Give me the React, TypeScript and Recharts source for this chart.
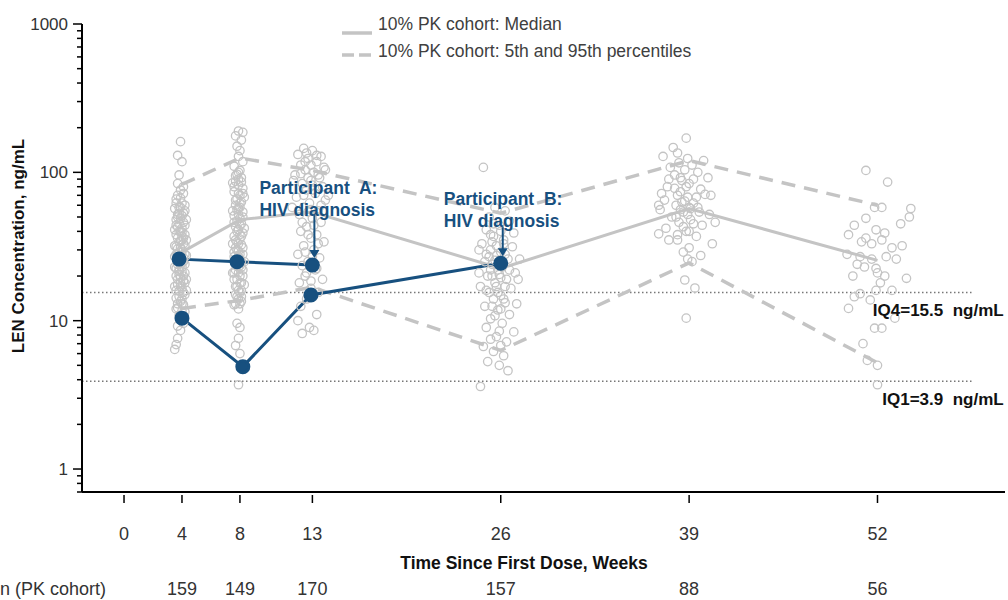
import React from "react"
import { ComposedChart, Line, Scatter, XAxis, YAxis, ReferenceLine, ReferenceDot } from "recharts"

const weekTicks = [0, 4, 8, 13, 26, 39, 52]
const nCounts = ["", "159", "149", "170", "157", "88", "56"]
const yTicks = [0.7, 0.8, 0.9, 1, 2, 3, 4, 5, 6, 7, 8, 9, 10, 20, 30, 40, 50, 60, 70, 80, 90, 100, 200, 300, 400, 500, 600, 700, 800, 900, 1000]
const majorY = [1, 10, 100, 1000]

const visits = [4, 8, 13, 26, 39, 52]
const medianConc = [29, 48, 54, 22.5, 57, 25.5]
const p95Conc = [83, 125, 103, 53, 120, 60]
const p5Conc = [12.1, 13.7, 16.8, 6.3, 24.5, 5.2]

const partAWeeks = [3.8, 7.8, 13]
const partAConc = [26, 25, 23.7]
const partBWeeks = [4.0, 8.2, 12.9, 26]
const partBConc = [10.4, 4.9, 14.9, 24.4]

const iq4 = 15.5
const iq1 = 3.9

// individual PK samples [week, ng/mL]
const wk4Samples = [
  [3.9, 161], [3.7, 130], [4.0, 118], [3.8, 96], [3.7, 84], [3.9, 76], [4.1, 72], [3.6, 66], [4.0, 62], [3.8, 58],
  [4.2, 55], [3.7, 52], [3.9, 49], [4.1, 46], [3.6, 44], [4.0, 42], [3.8, 40], [4.2, 38], [3.7, 36], [3.9, 34.5],
  [4.1, 33], [3.6, 31.5], [4.0, 30], [3.8, 29], [4.2, 28], [3.5, 27], [3.9, 26], [4.1, 25], [3.7, 24], [4.0, 23],
  [3.8, 22], [4.2, 21], [3.6, 20], [3.9, 19.5], [4.1, 18.5], [3.7, 17.5], [4.0, 16.5], [3.8, 15.8], [4.2, 15], [3.6, 14.2],
  [3.9, 13.5], [4.1, 12.8], [3.7, 12.2], [4.0, 11.6], [3.8, 10.8], [4.1, 9.6], [3.9, 8.6], [3.7, 7.6], [3.6, 6.9], [3.5, 6.4],
  [3.5, 57], [4.3, 48], [3.5, 41], [4.3, 35], [3.5, 32], [4.3, 27.5], [3.5, 23], [4.3, 19], [3.5, 17], [4.3, 16],
  [3.8, 45], [4.0, 37], [3.9, 31], [3.7, 28], [4.0, 24.5], [3.8, 21.5], [3.9, 18], [4.0, 14], [3.7, 13], [3.9, 67],
  [3.6, 62], [4.2, 60], [3.8, 53], [4.0, 51], [3.6, 48], [4.2, 44], [3.7, 43], [4.0, 39.5], [3.6, 38], [4.1, 36],
  [3.8, 34], [4.2, 32], [3.7, 30.5], [4.0, 29], [3.6, 28], [4.1, 26.5], [3.8, 25.5], [4.2, 24], [3.6, 22.5], [4.0, 21.5],
  [3.8, 20.5], [4.1, 20], [3.7, 19], [4.2, 18], [3.9, 17], [3.6, 16], [4.1, 15.5], [3.8, 14.6], [4.0, 13], [3.6, 12],
  [4.2, 11.5], [3.9, 10.2], [3.7, 9.2], [4.0, 35], [3.9, 40], [3.7, 50], [4.1, 53], [3.9, 58], [3.7, 70], [4.1, 80],
]
const wk8Samples = [
  [7.9, 190], [8.2, 186], [7.7, 176], [8.1, 165], [7.8, 150], [8.0, 140], [7.9, 128], [8.2, 118], [7.6, 110], [8.0, 103],
  [7.8, 97], [8.1, 92], [7.7, 87], [7.9, 82], [8.2, 78], [7.6, 74], [8.0, 70], [7.8, 66], [8.1, 63], [7.7, 60],
  [7.9, 57], [8.2, 54], [7.6, 51], [8.0, 49], [7.8, 47], [8.1, 45], [7.7, 43], [7.9, 41], [8.2, 39], [7.6, 37],
  [8.0, 35.5], [7.8, 34], [8.1, 32.5], [7.7, 31], [7.9, 29.5], [8.2, 28], [7.6, 27], [8.0, 26], [7.8, 24.5], [8.1, 23],
  [7.7, 22], [7.9, 21], [8.2, 20], [7.6, 19], [8.0, 18], [7.8, 17], [8.1, 16], [7.7, 15], [7.9, 14], [8.0, 13],
  [7.6, 12.8], [8.1, 14.5], [7.8, 9.6], [8.0, 9.0], [7.9, 7.6], [7.7, 6.8], [8.0, 6.0], [7.9, 3.7],
  [7.5, 85], [8.3, 68], [7.5, 55], [8.3, 42], [7.5, 33], [8.3, 25], [7.5, 21], [8.3, 17.5], [7.9, 100], [8.0, 58],
  [7.7, 95], [8.1, 86], [7.9, 90], [7.6, 80], [8.2, 72], [7.9, 72], [7.7, 65], [8.0, 62], [7.8, 56], [8.2, 50],
  [7.6, 46], [8.0, 44], [7.8, 40], [8.1, 37], [7.7, 35], [7.9, 33], [8.2, 31], [7.6, 29], [8.0, 28], [7.8, 26],
  [8.1, 25], [7.7, 24], [7.9, 23], [8.2, 22], [7.6, 21], [8.0, 20], [7.8, 19], [8.1, 18], [7.7, 17], [7.9, 16],
  [8.0, 15.5], [7.8, 14.5], [8.1, 13.5], [7.7, 13], [7.9, 12], [8.0, 38], [7.9, 52], [7.8, 30], [8.0, 23.5], [7.9, 27],
]
const wk13Samples = [
  [12.4, 145], [13.0, 140], [12.0, 132], [13.6, 128], [12.7, 124], [13.3, 118], [12.2, 112], [13.8, 108], [12.5, 104], [13.1, 100],
  [11.8, 96], [13.5, 92], [12.9, 88], [12.3, 84], [13.7, 80], [12.6, 76], [13.2, 72], [11.9, 68], [13.9, 65], [12.8, 62],
  [12.4, 58], [13.4, 55], [12.1, 52], [13.0, 49], [13.6, 46], [12.6, 43], [12.2, 40], [13.3, 38], [12.9, 36], [13.8, 34],
  [12.4, 32], [13.1, 30], [12.0, 28], [13.5, 26.5], [12.7, 25], [12.3, 23.5], [13.2, 22], [12.5, 20], [13.7, 19], [12.1, 18],
  [12.9, 16.5], [13.4, 15.5], [12.6, 14], [12.2, 12.5], [13.3, 11], [12.0, 10], [12.8, 9], [12.3, 8.2], [13.1, 8.6],
  [13.9, 104], [11.7, 88], [14.1, 70], [11.6, 58], [12.5, 118], [13.0, 82], [12.7, 54],
  [12.6, 135], [13.3, 130], [12.9, 112], [12.2, 98], [13.4, 96], [12.7, 92], [13.0, 76], [12.4, 70], [13.6, 60], [12.9, 56],
  [12.3, 46], [13.1, 44], [12.7, 38], [13.4, 33], [12.5, 29], [13.0, 27], [12.8, 24], [13.3, 22.5], [12.6, 21], [12.9, 18.5],
]
const wk26Samples = [
  [24.8, 108], [25.6, 58], [26.3, 55], [25.2, 50], [26.6, 47], [25.9, 44], [25.0, 41], [26.9, 39], [25.5, 37], [26.2, 35],
  [24.7, 33], [26.8, 31.5], [25.3, 30], [26.0, 29], [25.7, 27.5], [26.5, 26], [24.9, 25], [25.4, 24], [26.1, 23], [25.8, 22],
  [27.0, 21], [25.1, 20], [26.4, 19], [25.6, 18], [24.6, 17], [26.7, 16.5], [25.2, 15.5], [26.0, 14.8], [25.5, 14], [26.3, 13.2],
  [24.9, 12.5], [25.8, 11.8], [26.6, 11], [25.3, 10.3], [26.1, 9.6], [25.0, 9], [26.9, 8.4], [25.7, 7.8], [26.4, 7.2], [24.8, 6.7],
  [25.5, 6.2], [26.2, 5.8], [25.1, 5.3], [25.9, 5.0], [26.5, 4.6], [24.6, 3.6], [27.3, 26], [24.5, 30], [27.2, 19], [24.5, 21],
  [27.1, 13], [25.4, 34], [25.9, 20.5], [25.2, 27],
  [25.5, 45], [26.0, 40], [25.3, 38], [26.2, 33], [25.7, 32], [25.0, 28], [26.3, 28], [25.6, 25.5], [26.1, 25], [25.3, 22],
  [25.9, 23.5], [26.6, 22], [25.4, 20], [26.0, 19.5], [25.7, 17], [26.3, 17], [25.0, 16], [25.8, 15.5], [26.2, 14], [25.4, 12.5],
  [26.0, 12], [25.6, 10.8], [25.9, 8.5], [25.3, 7.5], [26.0, 6.8],
]
const wk39Samples = [
  [38.8, 170], [37.9, 147], [38.2, 135], [37.2, 128], [38.9, 124], [40.0, 120], [38.3, 116], [39.2, 112], [37.7, 108], [38.7, 104],
  [39.6, 100], [38.0, 96], [40.3, 92], [38.5, 88], [39.0, 84], [37.5, 80], [39.8, 77], [38.4, 74], [40.1, 71], [38.9, 68],
  [37.3, 65], [39.3, 62], [38.1, 60], [39.6, 58], [37.0, 56], [38.6, 54], [40.4, 52], [37.8, 50], [39.1, 48], [38.3, 46],
  [39.9, 44], [37.4, 42], [38.8, 40], [36.9, 38.5], [39.5, 37], [38.2, 35], [40.6, 33], [39.0, 31], [38.6, 29], [39.8, 27.5],
  [38.9, 26], [39.2, 25], [38.7, 18.8], [39.4, 16.6], [38.8, 10.4], [37.6, 90], [40.5, 70], [37.1, 72], [36.9, 60], [40.8, 46],
  [37.6, 35], [38.5, 63], [39.1, 57], [38.0, 78],
  [38.4, 92], [39.3, 90], [38.8, 80], [38.2, 70], [39.5, 68], [38.7, 64], [39.0, 58], [38.4, 56], [39.7, 54], [38.9, 52],
  [38.1, 50], [39.3, 45], [38.6, 43], [39.0, 40], [38.2, 38],
]
const wk52Samples = [
  [51.2, 103], [52.7, 86], [51.8, 58], [52.3, 58], [54.3, 57], [54.2, 50], [51.2, 49], [50.4, 44], [50.0, 38], [51.9, 41],
  [52.5, 39], [51.2, 36], [50.9, 34], [51.6, 33], [52.3, 35], [53.0, 31], [53.7, 32], [50.8, 27], [51.6, 26], [52.6, 27],
  [53.3, 26], [50.6, 24], [51.1, 23], [51.9, 22.5], [52.0, 21], [52.5, 20], [54.0, 19.3], [52.2, 18], [51.9, 16], [53.0, 16],
  [50.8, 15.2], [50.4, 14.5], [51.5, 13.8], [50.0, 12.1], [53.2, 10.4], [51.8, 8.9], [52.3, 8.9], [51.0, 7.0], [51.3, 5.4], [52.0, 5.0],
  [52.0, 3.7], [49.9, 28], [53.6, 45], [50.3, 20],
]

const toPts = (xs: number[], ys: number[]) => xs.map((x, i) => ({ x, y: ys[i] }))
const samplePts = [...wk4Samples, ...wk8Samples, ...wk13Samples, ...wk26Samples, ...wk39Samples, ...wk52Samples].map(([x, y]) => ({ x, y }))

const BLUE = "#17507f"
const GREY = "#c4c4c4"
const FONT = "'Liberation Sans', Arial, sans-serif"

const renderYTick = (props: any) => {
  const { y, payload } = props
  const major = majorY.includes(payload.value)
  return (
    <g>
      <line x1={major ? 73 : 77} x2={82} y1={y} y2={y} stroke="#000" strokeWidth={1.5} />
      {major && (
        <text x={68} y={y} dy={6} textAnchor="end" fontSize={17} fill="#333" fontFamily={FONT}>
          {payload.value}
        </text>
      )}
    </g>
  )
}

const renderXTick = (props: any) => {
  const { x, payload, index } = props
  return (
    <g>
      <line x1={x} x2={x} y1={495} y2={503} stroke="#000" strokeWidth={1.5} />
      <text x={x} y={540} textAnchor="middle" fontSize={18} fill="#333" fontFamily={FONT}>{payload.value}</text>
      <text x={x} y={595} textAnchor="middle" fontSize={18} fill="#333" fontFamily={FONT}>{nCounts[index]}</text>
    </g>
  )
}

const openCircle = (p: any) => <circle cx={p.cx} cy={p.cy} r={4.2} fill="none" stroke={GREY} strokeWidth={1.3} />

const annotate = (lines: string[], dx: number, top: number, arrowTop: number) => (p: any) => (
  <g fontFamily={FONT} fontWeight="bold" fontSize={17.5} fill={BLUE}>
    <text x={p.cx + dx} y={p.cy - top} style={{ whiteSpace: "pre" }}>{lines[0]}</text>
    <text x={p.cx + dx} y={p.cy - top + 22}>{lines[1]}</text>
    <line x1={p.cx + 2} x2={p.cx + 2} y1={p.cy - arrowTop} y2={p.cy - 14} stroke={BLUE} strokeWidth={2} />
    <path d={`M${p.cx - 3} ${p.cy - 15} L${p.cx + 7} ${p.cy - 15} L${p.cx + 2} ${p.cy - 7} Z`} fill={BLUE} />
  </g>
)

const iqLabel = (text: string) => (p: any) => (
  <text x={p.cx + 32} y={p.cy + 24} textAnchor="end" fontFamily={FONT} fontWeight="bold" fontSize={17} fill="#111"
    style={{ whiteSpace: "pre" }}>
    {text}
  </text>
)

export default function App() {
  return (
    <div style={{ position: "absolute", left: 0, top: 0, width: 1008, height: 600, background: "#fff" }}>
      <ComposedChart width={1008} height={600} margin={{ top: 24, right: 3, bottom: 48, left: 12 }}>
        <XAxis type="number" dataKey="x" domain={[-2.9, 60.8]} allowDataOverflow ticks={weekTicks} interval={0}
          tick={renderXTick} tickLine={false} axisLine={{ stroke: "#000", strokeWidth: 2 }} height={60} />
        <YAxis type="number" dataKey="y" scale="log" domain={[0.7, 1000]} allowDataOverflow ticks={yTicks} interval={0}
          tick={renderYTick} tickLine={false} axisLine={{ stroke: "#000", strokeWidth: 2 }} width={70} />
        <ReferenceLine segment={[{ x: -2.9, y: iq4 }, { x: 58.5, y: iq4 }]} stroke="#777" strokeDasharray="1.5 2.5" strokeWidth={1.5} />
        <ReferenceLine segment={[{ x: -2.9, y: iq1 }, { x: 58.5, y: iq1 }]} stroke="#777" strokeDasharray="1.5 2.5" strokeWidth={1.5} />
        <Scatter data={samplePts} dataKey="y" shape={openCircle} isAnimationActive={false} />
        <Line data={toPts(visits, p95Conc)} dataKey="y" stroke={GREY} strokeWidth={3.5} strokeDasharray="14 9" dot={false} isAnimationActive={false} />
        <Line data={toPts(visits, p5Conc)} dataKey="y" stroke={GREY} strokeWidth={3.5} strokeDasharray="14 9" dot={false} isAnimationActive={false} />
        <Line data={toPts(visits, medianConc)} dataKey="y" stroke={GREY} strokeWidth={3} dot={false} isAnimationActive={false} />
        <Line data={toPts(partAWeeks, partAConc)} dataKey="y" stroke={BLUE} strokeWidth={3} dot={{ r: 6, fill: BLUE, stroke: BLUE }} isAnimationActive={false} />
        <Line data={toPts(partBWeeks, partBConc)} dataKey="y" stroke={BLUE} strokeWidth={3} dot={{ r: 6, fill: BLUE, stroke: BLUE }} isAnimationActive={false} />
        <Scatter data={[{ x: partAWeeks[2], y: partAConc[2] }]} dataKey="y" isAnimationActive={false}
          shape={annotate(["Participant  A:", "HIV diagnosis"], -53, 71, 50)} />
        <Scatter data={[{ x: partBWeeks[3], y: partBConc[3] }]} dataKey="y" isAnimationActive={false}
          shape={annotate(["Participant  B:", "HIV diagnosis"], -57, 58, 36)} />
        <ReferenceDot x={58.5} y={iq4} r={0} shape={iqLabel("IQ4=15.5  ng/mL")} />
        <ReferenceDot x={58.5} y={iq1} r={0} shape={iqLabel("IQ1=3.9  ng/mL")} />
      </ComposedChart>
      <svg width={1008} height={600} style={{ position: "absolute", left: 0, top: 0, pointerEvents: "none" }} fontFamily={FONT}>
        <line x1={342} x2={372} y1={33} y2={33} stroke={GREY} strokeWidth={3.5} />
        <text x={378} y={30} fontSize={17.5} fill="#404040">10% PK cohort: Median</text>
        <line x1={342} x2={372} y1={55} y2={55} stroke={GREY} strokeWidth={3.5} strokeDasharray="12 5" />
        <text x={378} y={57} fontSize={17.5} fill="#404040">10% PK cohort: 5th and 95th percentiles</text>
        <text transform="translate(24,246) rotate(-90)" textAnchor="middle" fontSize={17} fontWeight="bold" fill="#111">
          LEN Concentration, ng/mL
        </text>
        <text x={524} y={569} textAnchor="middle" fontSize={17.5} fontWeight="bold" fill="#111">Time Since First Dose, Weeks</text>
        <text x={0} y={595} fontSize={18} fill="#333">n (PK cohort)</text>
      </svg>
    </div>
  )
}
